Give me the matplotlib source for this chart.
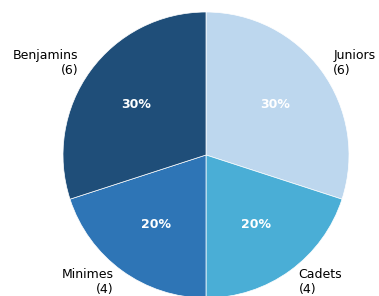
import matplotlib
matplotlib.use("Agg")
import matplotlib.pyplot as plt

# Data
categories = ["Juniors", "Cadets", "Minimes", "Benjamins"]
counts = [6, 4, 4, 6]
colors = ["#bdd7ee", "#4aaed6", "#2e75b6", "#1f4e79"]

labels = [f"{name}\n({n})" for name, n in zip(categories, counts)]

fig = plt.figure(figsize=(3.79, 2.96), dpi=100)
ax = fig.add_axes([0, 0, 1, 1])

wedges, texts, autotexts = ax.pie(
    counts,
    labels=labels,
    colors=colors,
    startangle=90,
    counterclock=False,
    autopct="%1.0f%%",
    pctdistance=0.6,
    labeldistance=1.1,
    wedgeprops={"edgecolor": "white", "linewidth": 0.5},
    textprops={"fontsize": 9},
)
for t in autotexts:
    t.set_color("white")
    t.set_fontweight("bold")

# place the pie: centre at (206, 155) px from top-left, radius 143 px
r = 143.0
cx, cy = 206.0, 296.0 - 155.0
ax.set_xlim(-cx / r, (379 - cx) / r)
ax.set_ylim(-cy / r, (296 - cy) / r)
ax.set_aspect("auto")
ax.axis("off")

fig.savefig("out.png", dpi=100)
